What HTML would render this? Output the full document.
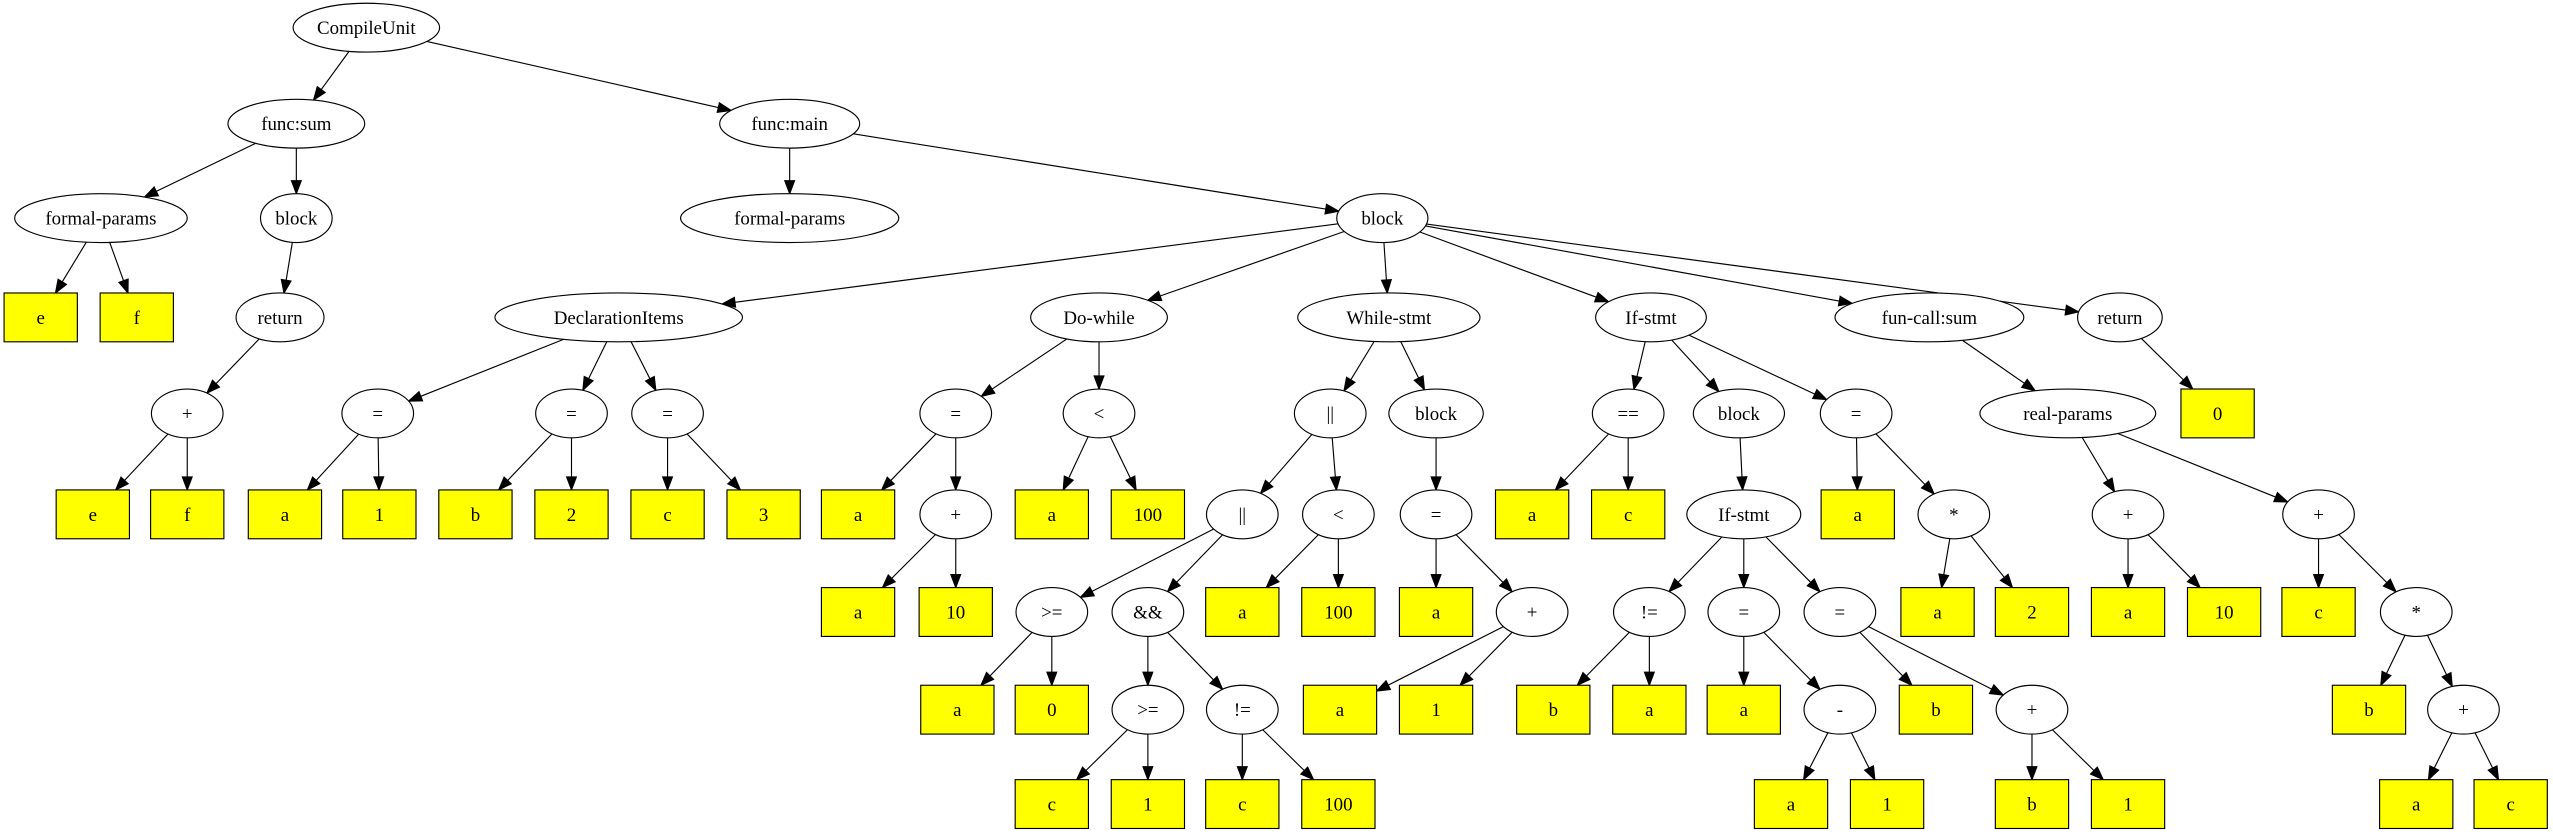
<!DOCTYPE html>
<html><head><meta charset="utf-8"><style>
html,body{margin:0;padding:0;background:#fff;}
svg{display:block;}
ellipse{fill:#fff;stroke:#000;stroke-width:0.7;}
rect{fill:#ffff00;stroke:#000;stroke-width:0.7;}
text{font-family:"Liberation Serif",serif;font-size:11.6px;text-anchor:middle;fill:#000;}
</style></head><body>
<svg id="s" width="2553" height="835" viewBox="0 0 1568 513" preserveAspectRatio="none" xmlns="http://www.w3.org/2000/svg">
<g id="edges"></g>
<g id="nodes">
<ellipse id="cu" cx="225" cy="17" rx="45" ry="15"/><text x="225" y="21">CompileUnit</text>
<ellipse id="fs" cx="182" cy="76" rx="42" ry="15"/><text x="182" y="80">func:sum</text>
<ellipse id="fm" cx="485" cy="76" rx="43" ry="15"/><text x="485" y="80">func:main</text>
<ellipse id="fp1" cx="62" cy="134" rx="53" ry="15"/><text x="62" y="138">formal-params</text>
<ellipse id="bk1" cx="182" cy="134" rx="22" ry="15"/><text x="182" y="138">block</text>
<ellipse id="fp2" cx="485" cy="134" rx="67" ry="15"/><text x="485" y="138">formal-params</text>
<ellipse id="bk" cx="849" cy="134" rx="28" ry="15"/><text x="849" y="138">block</text>

<rect id="e1" x="2.5" y="180" width="45" height="30"/><text x="25" y="199">e</text>
<rect id="f1" x="61.5" y="180" width="45" height="30"/><text x="84" y="199">f</text>
<ellipse id="rt1" cx="172" cy="195" rx="27" ry="15"/><text x="172" y="199">return</text>
<ellipse id="di" cx="380" cy="195" rx="76" ry="15"/><text x="380" y="199">DeclarationItems</text>
<ellipse id="dw" cx="675" cy="195" rx="42" ry="15"/><text x="675" y="199">Do-while</text>
<ellipse id="ws" cx="853" cy="195" rx="56" ry="15"/><text x="853" y="199">While-stmt</text>
<ellipse id="is" cx="1014" cy="195" rx="34" ry="15"/><text x="1014" y="199">If-stmt</text>
<ellipse id="fc" cx="1185" cy="195" rx="58" ry="15"/><text x="1185" y="199">fun-call:sum</text>
<ellipse id="rt2" cx="1302" cy="195" rx="26" ry="15"/><text x="1302" y="199">return</text>

<ellipse id="p1" cx="115" cy="254" rx="22" ry="15"/><text x="115" y="258">+</text>
<ellipse id="a1" cx="232" cy="254" rx="22" ry="15"/><text x="232" y="258">=</text>
<ellipse id="a2" cx="351" cy="254" rx="22" ry="15"/><text x="351" y="258">=</text>
<ellipse id="a3" cx="410" cy="254" rx="22" ry="15"/><text x="410" y="258">=</text>
<ellipse id="a4" cx="587" cy="254" rx="22" ry="15"/><text x="587" y="258">=</text>
<ellipse id="lt1" cx="675" cy="254" rx="22" ry="15"/><text x="675" y="258">&lt;</text>
<ellipse id="or1" cx="817" cy="254" rx="22" ry="15"/><text x="817" y="258">||</text>
<ellipse id="bk2" cx="882" cy="254" rx="29" ry="15"/><text x="882" y="258">block</text>
<ellipse id="eq" cx="1000" cy="254" rx="22" ry="15"/><text x="1000" y="258">==</text>
<ellipse id="bk3" cx="1068" cy="254" rx="28" ry="15"/><text x="1068" y="258">block</text>
<ellipse id="a5" cx="1140" cy="254" rx="22" ry="15"/><text x="1140" y="258">=</text>
<ellipse id="rp" cx="1270" cy="254" rx="54" ry="15"/><text x="1270" y="258">real-params</text>
<rect id="z0" x="1339.5" y="239" width="45" height="30"/><text x="1362" y="258">0</text>

<rect id="e2" x="34.5" y="301" width="45" height="30"/><text x="57" y="320">e</text>
<rect id="f2" x="92.5" y="301" width="45" height="30"/><text x="115" y="320">f</text>
<rect id="x1" x="152.5" y="301" width="45" height="30"/><text x="175" y="320">a</text>
<rect id="x2" x="210.5" y="301" width="45" height="30"/><text x="233" y="320">1</text>
<rect id="x3" x="269.5" y="301" width="45" height="30"/><text x="292" y="320">b</text>
<rect id="x4" x="328.5" y="301" width="45" height="30"/><text x="351" y="320">2</text>
<rect id="x5" x="387.5" y="301" width="45" height="30"/><text x="410" y="320">c</text>
<rect id="x6" x="446.5" y="301" width="45" height="30"/><text x="469" y="320">3</text>
<rect id="x7" x="504.5" y="301" width="45" height="30"/><text x="527" y="320">a</text>
<ellipse id="p2" cx="587" cy="316" rx="22" ry="15"/><text x="587" y="320">+</text>
<rect id="x8" x="623.5" y="301" width="45" height="30"/><text x="646" y="320">a</text>
<rect id="x9" x="682.5" y="301" width="45" height="30"/><text x="705" y="320">100</text>
<ellipse id="or2" cx="763" cy="316" rx="22" ry="15"/><text x="763" y="320">||</text>
<ellipse id="lt2" cx="822" cy="316" rx="22" ry="15"/><text x="822" y="320">&lt;</text>
<ellipse id="a6" cx="882" cy="316" rx="22" ry="15"/><text x="882" y="320">=</text>
<rect id="x10" x="918.5" y="301" width="45" height="30"/><text x="941" y="320">a</text>
<rect id="x11" x="977.5" y="301" width="45" height="30"/><text x="1000" y="320">c</text>
<ellipse id="is2" cx="1071" cy="316" rx="35" ry="15"/><text x="1071" y="320">If-stmt</text>
<rect id="x12" x="1118.5" y="301" width="45" height="30"/><text x="1141" y="320">a</text>
<ellipse id="m1" cx="1200" cy="316" rx="22" ry="15"/><text x="1200" y="320">*</text>
<ellipse id="p3" cx="1307" cy="316" rx="22" ry="15"/><text x="1307" y="320">+</text>
<ellipse id="p4" cx="1424" cy="316" rx="22" ry="15"/><text x="1424" y="320">+</text>

<rect id="y1" x="504.5" y="361" width="45" height="30"/><text x="527" y="380">a</text>
<rect id="y2" x="564.5" y="361" width="45" height="30"/><text x="587" y="380">10</text>
<ellipse id="ge1" cx="646" cy="376" rx="22" ry="15"/><text x="646" y="380">&gt;=</text>
<ellipse id="an" cx="705" cy="376" rx="22" ry="15"/><text x="705" y="380">&amp;&amp;</text>
<rect id="y3" x="740.5" y="361" width="45" height="30"/><text x="763" y="380">a</text>
<rect id="y4" x="799.5" y="361" width="45" height="30"/><text x="822" y="380">100</text>
<rect id="y5" x="859.5" y="361" width="45" height="30"/><text x="882" y="380">a</text>
<ellipse id="p5" cx="941" cy="376" rx="22" ry="15"/><text x="941" y="380">+</text>
<ellipse id="ne1" cx="1013" cy="376" rx="22" ry="15"/><text x="1013" y="380">!=</text>
<ellipse id="a7" cx="1071" cy="376" rx="22" ry="15"/><text x="1071" y="380">=</text>
<ellipse id="a8" cx="1130" cy="376" rx="22" ry="15"/><text x="1130" y="380">=</text>
<rect id="y6" x="1167.5" y="361" width="45" height="30"/><text x="1190" y="380">a</text>
<rect id="y7" x="1225.5" y="361" width="45" height="30"/><text x="1248" y="380">2</text>
<rect id="y8" x="1284.5" y="361" width="45" height="30"/><text x="1307" y="380">a</text>
<rect id="y9" x="1343.5" y="361" width="45" height="30"/><text x="1366" y="380">10</text>
<rect id="y10" x="1401.5" y="361" width="45" height="30"/><text x="1424" y="380">c</text>
<ellipse id="m2" cx="1484" cy="376" rx="22" ry="15"/><text x="1484" y="380">*</text>

<rect id="w1" x="565.5" y="421" width="45" height="30"/><text x="588" y="440">a</text>
<rect id="w2" x="623.5" y="421" width="45" height="30"/><text x="646" y="440">0</text>
<ellipse id="ge2" cx="705" cy="436" rx="22" ry="15"/><text x="705" y="440">&gt;=</text>
<ellipse id="ne2" cx="763" cy="436" rx="22" ry="15"/><text x="763" y="440">!=</text>
<rect id="w3" x="800.5" y="421" width="45" height="30"/><text x="823" y="440">a</text>
<rect id="w4" x="859.5" y="421" width="45" height="30"/><text x="882" y="440">1</text>
<rect id="w5" x="931.5" y="421" width="45" height="30"/><text x="954" y="440">b</text>
<rect id="w6" x="990.5" y="421" width="45" height="30"/><text x="1013" y="440">a</text>
<rect id="w7" x="1048.5" y="421" width="45" height="30"/><text x="1071" y="440">a</text>
<ellipse id="mi" cx="1130" cy="436" rx="22" ry="15"/><text x="1130" y="440">-</text>
<rect id="w8" x="1166.5" y="421" width="45" height="30"/><text x="1189" y="440">b</text>
<ellipse id="p6" cx="1248" cy="436" rx="22" ry="15"/><text x="1248" y="440">+</text>
<rect id="w9" x="1432.5" y="421" width="45" height="30"/><text x="1455" y="440">b</text>
<ellipse id="p7" cx="1513" cy="436" rx="22" ry="15"/><text x="1513" y="440">+</text>

<rect id="v1" x="623.5" y="479" width="45" height="30"/><text x="646" y="498">c</text>
<rect id="v2" x="682.5" y="479" width="45" height="30"/><text x="705" y="498">1</text>
<rect id="v3" x="740.5" y="479" width="45" height="30"/><text x="763" y="498">c</text>
<rect id="v4" x="799.5" y="479" width="45" height="30"/><text x="822" y="498">100</text>
<rect id="v5" x="1077.5" y="479" width="45" height="30"/><text x="1100" y="498">a</text>
<rect id="v6" x="1136.5" y="479" width="45" height="30"/><text x="1159" y="498">1</text>
<rect id="v7" x="1225.5" y="479" width="45" height="30"/><text x="1248" y="498">b</text>
<rect id="v8" x="1284.5" y="479" width="45" height="30"/><text x="1307" y="498">1</text>
<rect id="v9" x="1461.5" y="479" width="45" height="30"/><text x="1484" y="498">a</text>
<rect id="v10" x="1519.5" y="479" width="45" height="30"/><text x="1542" y="498">c</text>
</g>
</svg>
<script>
(function(){
var E="cu>fs cu>fm fs>fp1 fs>bk1 fp1>e1 fp1>f1 bk1>rt1 rt1>p1 p1>e2 p1>f2 fm>fp2 fm>bk bk>di bk>dw bk>ws bk>is bk>fc bk>rt2 di>a1 di>a2 di>a3 a1>x1 a1>x2 a2>x3 a2>x4 a3>x5 a3>x6 dw>a4 dw>lt1 a4>x7 a4>p2 p2>y1 p2>y2 lt1>x8 lt1>x9 ws>or1 ws>bk2 or1>or2 or1>lt2 or2>ge1 or2>an ge1>w1 ge1>w2 an>ge2 an>ne2 ge2>v1 ge2>v2 ne2>v3 ne2>v4 lt2>y3 lt2>y4 bk2>a6 a6>y5 a6>p5 p5>w3 p5>w4 is>eq is>bk3 is>a5 eq>x10 eq>x11 bk3>is2 is2>ne1 is2>a7 is2>a8 ne1>w5 ne1>w6 a7>w7 a7>mi mi>v5 mi>v6 a8>w8 a8>p6 p6>v7 p6>v8 a5>x12 a5>m1 m1>y6 m1>y7 fc>rp rp>p3 rp>p4 p3>y8 p3>y9 p4>y10 p4>m2 m2>w9 m2>p7 p7>v9 p7>v10 rt2>z0".split(" ");
function g(id){var e=document.getElementById(id),f=function(a){return parseFloat(e.getAttribute(a));};
 if(e.tagName=="rect")return{t:"r",x:f("x")+f("width")/2,y:f("y")+f("height")/2,a:f("width")/2,b:f("height")/2};
 return{t:"e",x:f("cx"),y:f("cy"),a:f("rx"),b:f("ry")};}
function bd(n,dx,dy){var t;if(n.t=="e")t=1/Math.sqrt(dx*dx/(n.a*n.a)+dy*dy/(n.b*n.b));
 else t=Math.min(dx?n.a/Math.abs(dx):1e9,dy?n.b/Math.abs(dy):1e9);return t;}
var out="";
E.forEach(function(s){var p=s.split(">"),A=g(p[0]),B=g(p[1]);var dx=B.x-A.x,dy=B.y-A.y;
 var t1=bd(A,dx,dy),t2=bd(B,-dx,-dy);var sx=A.x+dx*t1,sy=A.y+dy*t1,ex=B.x-dx*t2,ey=B.y-dy*t2;
 var L=Math.sqrt(dx*dx+dy*dy),ux=dx/L,uy=dy/L,al=8,aw=3;var bx=ex-ux*al,by=ey-uy*al;
 out+='<line x1="'+sx+'" y1="'+sy+'" x2="'+bx+'" y2="'+by+'" stroke="#000" stroke-width="0.7"/>';
 out+='<polygon points="'+ex+','+ey+' '+(bx-uy*aw)+','+(by+ux*aw)+' '+(bx+uy*aw)+','+(by-ux*aw)+'" fill="#000" stroke="#000" stroke-width="0.7"/>';});
document.getElementById("edges").innerHTML=out;
})();
</script>
</body></html>
